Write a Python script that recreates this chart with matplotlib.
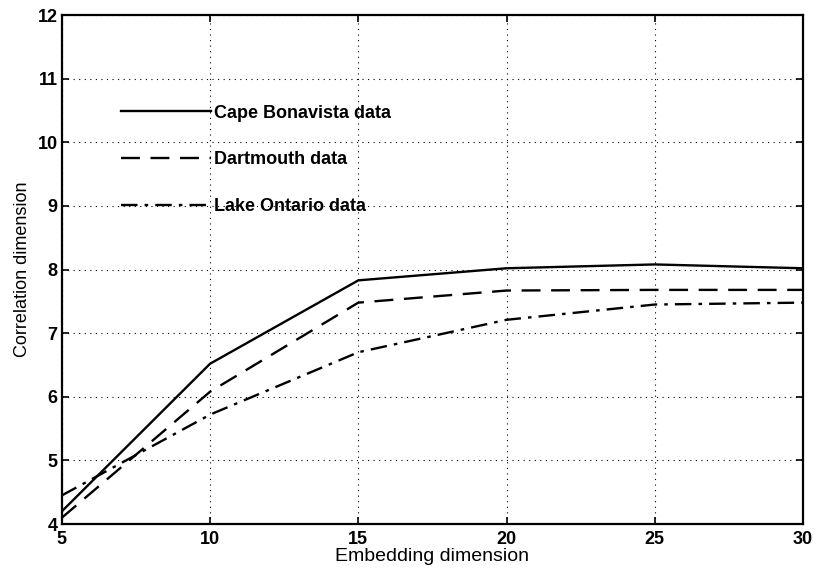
import numpy as np
import matplotlib.pyplot as plt

# embedding dimension values
embedding = [5, 10, 15, 20, 25, 30]
cape_bonavista = [4.2, 6.52, 7.83, 8.02, 8.08, 8.02]
dartmouth = [4.1, 6.08, 7.48, 7.67, 7.68, 7.68]
lake_ontario = [4.45, 5.72, 6.70, 7.21, 7.45, 7.48]

labels = ["Cape Bonavista data", "Dartmouth data", "Lake Ontario data"]

plt.rcParams['font.family'] = ['Liberation Sans', 'DejaVu Sans']

fig = plt.figure(figsize=(8.14, 5.69), dpi=100)
ax = fig.add_axes([0.076, 0.079, 0.9105, 0.8946])

ax.plot(embedding, cape_bonavista, color="black", lw=1.7, linestyle="-", label=labels[0])
ax.plot(embedding, dartmouth, color="black", lw=1.7, linestyle=(0, (8, 4.5)), label=labels[1])
ax.plot(embedding, lake_ontario, color="black", lw=1.7, linestyle=(0, (7, 3, 1.5, 3)), label=labels[2])

ax.set_xlim(5, 30)
ax.set_ylim(4, 12)
ax.set_xticks([5, 10, 15, 20, 25, 30])
ax.set_yticks(range(4, 13))
ax.grid(True, linestyle=(0, (1, 4)), color="black", lw=0.8)

ax.tick_params(direction="in", top=True, right=True, length=5, width=1.2, labelsize=13)
ax.tick_params(axis="x", pad=5)
ax.tick_params(axis="y", pad=3)
for lbl in ax.get_xticklabels() + ax.get_yticklabels():
    lbl.set_fontweight("bold")
for sp in ax.spines.values():
    sp.set_linewidth(1.6)

ax.set_xlabel("Embedding dimension", fontsize=14, labelpad=0)
ax.set_ylabel("Correlation dimension", fontsize=13, labelpad=5)

ax.legend(loc="upper left", bbox_to_anchor=(0.070, 0.838), frameon=False,
          prop={"size": 13, "weight": "bold"},
          handlelength=5.0, handletextpad=0.15, labelspacing=1.65, borderaxespad=0)

fig.savefig("out.png", dpi=100)
